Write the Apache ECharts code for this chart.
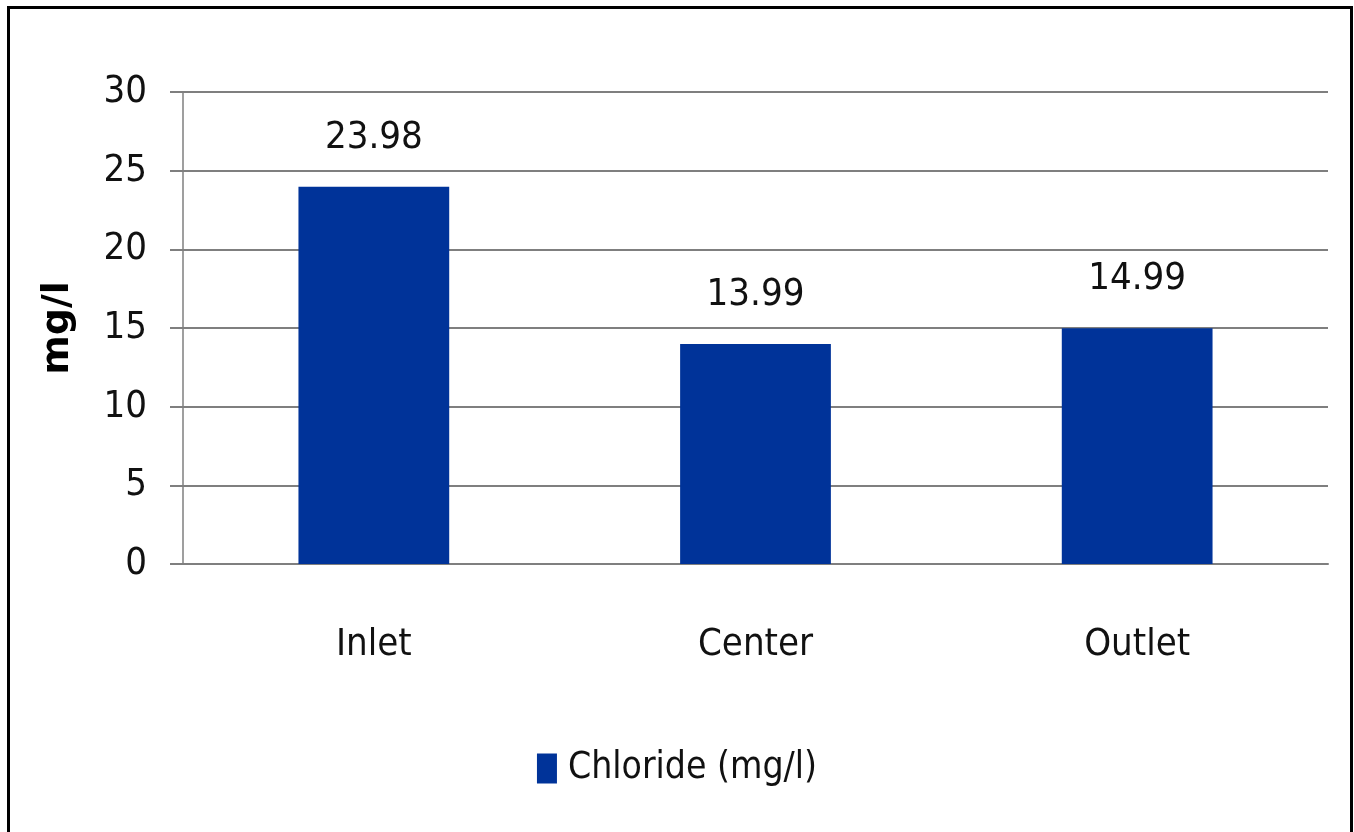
<!DOCTYPE html>
<html>
<head>
<meta charset="utf-8">
<script src="https://cdn.jsdelivr.net/npm/echarts@6/dist/echarts.min.js"></script>
<style>
  html, body { margin: 0; padding: 0; background: #fff; }
  #chart { width: 1354px; height: 832px; }
</style>
</head>
<body>
<div id="chart"></div>
<script>
const categories = ['Inlet', 'Center', 'Outlet']
const chlorideValues = [23.98, 13.99, 14.99]
const seriesName = 'Chloride (mg/l)'

const chart = echarts.init(document.getElementById('chart'))
const narrow = '"Liberation Sans Narrow", "DejaVu Sans Condensed", sans-serif'

chart.setOption({
  backgroundColor: '#ffffff',
  animation: false,
  graphic: [
    {
      // frame round the picture (no bottom edge)
      type: 'polyline',
      shape: { points: [[8.5, 832], [8.5, 7.5], [1351.5, 7.5], [1351.5, 832]] },
      style: { stroke: '#000', lineWidth: 3, fill: null }
    }
  ],
  grid: {
    left: 183,
    right: 26,
    top: 92,
    bottom: 268
  },
  legend: {
    bottom: 40,
    left: 'center',
    itemWidth: 20,
    itemHeight: 30,
    itemGap: 10,
    icon: 'rect',
    textStyle: { fontFamily: narrow, fontSize: 37, color: '#111', padding: [0, 0, 0, 6] },
    data: [seriesName]
  },
  xAxis: {
    type: 'category',
    data: categories,
    axisLine: { show: true, lineStyle: { color: '#7f7f7f', width: 2 } },
    axisTick: { show: false },
    axisLabel: { fontFamily: narrow, fontSize: 38, color: '#111', margin: 62 }
  },
  yAxis: {
    type: 'value',
    min: 0,
    max: 30,
    interval: 5,
    name: 'mg/l',
    nameLocation: 'middle',
    nameGap: 106,
    nameRotate: 90,
    nameTextStyle: {
      fontFamily: '"DejaVu Sans", sans-serif',
      fontWeight: 'bold',
      fontSize: 38,
      color: '#000'
    },
    axisLine: { show: true, lineStyle: { color: '#7f7f7f', width: 1.5 } },
    axisTick: { show: true, length: 13, lineStyle: { color: '#7f7f7f', width: 2 } },
    axisLabel: { fontFamily: narrow, fontSize: 38, color: '#111', margin: 36 },
    splitLine: { lineStyle: { color: '#7f7f7f', width: 2 } }
  },
  series: [
    {
      name: seriesName,
      type: 'bar',
      data: chlorideValues,
      barWidth: '39.5%',
      itemStyle: { color: '#003399' },
      label: {
        show: true,
        position: 'top',
        distance: 30,
        fontFamily: narrow,
        fontSize: 38,
        color: '#111'
      }
    }
  ]
})
</script>
</body>
</html>
